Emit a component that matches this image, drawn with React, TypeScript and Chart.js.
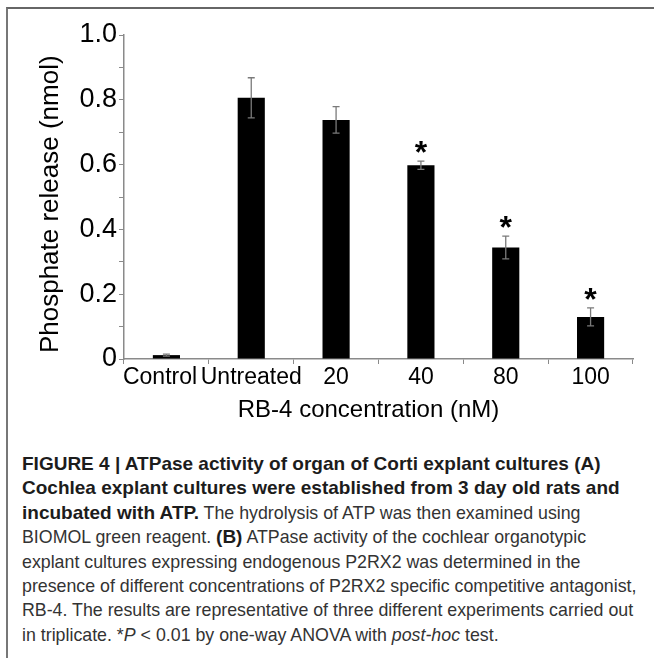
import React, { useEffect, useRef } from "react";
import { Chart, registerables } from "chart.js";

Chart.register(...registerables);

const categories = ["Control", "Untreated", "20", "40", "80", "100"];
const values = [0.012, 0.806, 0.738, 0.598, 0.344, 0.13];
const errors = [0.003, 0.062, 0.041, 0.013, 0.035, 0.028];
const markers = ["", "", "", "*", "*", "*"];
const yTickLabels = ["0", "", "0.2", "", "0.4", "", "0.6", "", "0.8", "", "1.0"];
const yTitle = "Phosphate release (nmol)";
const xTitle = "RB-4 concentration (nM)";

const FONT = "'Liberation Sans', Arial, Helvetica, sans-serif";

const errorBarPlugin = {
  id: "errorBars",
  afterDatasetsDraw(chart: any) {
    const { ctx } = chart;
    const meta = chart.getDatasetMeta(0);
    const y = chart.scales.y;
    ctx.save();
    meta.data.forEach((bar: any, i: number) => {
      const x = bar.x;
      const top = y.getPixelForValue(values[i] + errors[i]);
      const bot = y.getPixelForValue(values[i] - errors[i]);
      ctx.strokeStyle = "#7a7a7a";
      ctx.lineWidth = 1.3;
      ctx.beginPath();
      ctx.moveTo(x, top);
      ctx.lineTo(x, bot);
      ctx.moveTo(x - 3.5, top);
      ctx.lineTo(x + 3.5, top);
      ctx.moveTo(x - 3.5, bot);
      ctx.lineTo(x + 3.5, bot);
      ctx.stroke();
      if (markers[i]) {
        ctx.fillStyle = "#000";
        ctx.font = `bold 32px ${FONT}`;
        ctx.textAlign = "center";
        ctx.textBaseline = "alphabetic";
        const m = ctx.measureText(markers[i]);
        const cy = top - 14;
        const dy = (m.actualBoundingBoxAscent - m.actualBoundingBoxDescent) / 2;
        ctx.fillText(markers[i], x, cy + dy);
      }
    });
    ctx.restore();
  },
};

export default function App() {
  const ref = useRef<HTMLCanvasElement | null>(null);

  useEffect(() => {
    if (!ref.current) return;
    const chart = new Chart(ref.current, {
      type: "bar",
      data: {
        labels: categories,
        datasets: [
          {
            data: values,
            backgroundColor: "#000",
            borderWidth: 0,
            categoryPercentage: 1,
            barPercentage: 0.32,
          },
        ],
      },
      options: {
        responsive: false,
        animation: false,
        devicePixelRatio: 1,
        layout: { padding: { left: 8, right: 21, top: 35, bottom: 11 } },
        plugins: { legend: { display: false }, tooltip: { enabled: false } },
        scales: {
          x: {
            grid: {
              display: true,
              drawOnChartArea: false,
              drawTicks: true,
              tickLength: 5,
              color: "#8a8a8a",
              offset: true,
            },
            border: { display: true, color: "#8a8a8a", width: 1.5 },
            ticks: {
              color: "#000",
              font: { family: FONT, size: 23 },
              padding: 0,
              maxRotation: 0,
              autoSkip: false,
              callback: (_v: any, i: number) =>
                categories[i] + (i === 0 ? "\u00a0\u00a0" : ""),
            },
            title: {
              display: true,
              text: xTitle + "\u00a0\u00a0\u00a0",
              color: "#000",
              font: { family: FONT, size: 24 },
              padding: { top: 0, bottom: 4 },
            },
            afterFit(scale: any) {
              scale.height = 70;
            },
          },
          y: {
            min: 0,
            max: 1.0,
            ticks: {
              stepSize: 0.1,
              color: "#000",
              font: { family: FONT, size: 27 },
              padding: 2,
              autoSkip: false,
              callback: (_v: any, i: number) => yTickLabels[i],
            },
            grid: {
              display: true,
              drawOnChartArea: false,
              drawTicks: true,
              tickLength: 5,
              color: "#8a8a8a",
            },
            border: { display: true, color: "#8a8a8a", width: 1.5 },
            title: {
              display: true,
              text: yTitle + "\u00a0\u00a0",
              color: "#000",
              font: { family: FONT, size: 26 },
              padding: { top: 27, bottom: 0 },
            },
            afterFit(scale: any) {
              scale.width = 116;
            },
          },
        },
      },
      plugins: [errorBarPlugin],
    });
    return () => chart.destroy();
  }, []);

  const lineStyle: React.CSSProperties = {
    whiteSpace: "nowrap",
    height: 24.4,
    lineHeight: "24.4px",
  };
  const bold: React.CSSProperties = { fontWeight: 700, fontSize: 19, color: "#1c1c1c" };

  return (
    <div
      style={{
        position: "fixed",
        left: 0,
        top: 0,
        width: 654,
        height: 658,
        background: "#fff",
        overflow: "hidden",
      }}
    >
      <div
        style={{
          position: "absolute",
          left: 6,
          top: 7,
          width: 800,
          height: 800,
          borderTop: "2px solid #666",
          borderLeft: "2px solid #777",
        }}
      />
      <canvas
        ref={ref}
        width={654}
        height={440}
        style={{ position: "absolute", left: 0, top: 0, width: 654, height: 440 }}
      />
      <div
        style={{
          position: "absolute",
          left: 22,
          top: 452,
          fontFamily: FONT,
          fontSize: 17.8,
          color: "#333",
        }}
      >
        <div style={lineStyle}>
          <span style={bold}>FIGURE 4 | ATPase activity of organ of Corti explant cultures (A)</span>
        </div>
        <div style={lineStyle}>
          <span style={bold}>Cochlea explant cultures were established from 3 day old rats and</span>
        </div>
        <div style={lineStyle}>
          <span style={bold}>incubated with ATP.</span> The hydrolysis of ATP was then examined using
        </div>
        <div style={lineStyle}>
          BIOMOL green reagent. <span style={bold}>(B)</span> ATPase activity of the cochlear organotypic
        </div>
        <div style={lineStyle}>explant cultures expressing endogenous P2RX2 was determined in the</div>
        <div style={lineStyle}>
          presence of different concentrations of P2RX2 specific competitive antagonist,
        </div>
        <div style={lineStyle}>
          RB-4. The results are representative of three different experiments carried out
        </div>
        <div style={lineStyle}>
          in triplicate. *<i>P</i> &lt; 0.01 by one-way ANOVA with <i>post-hoc</i> test.
        </div>
      </div>
    </div>
  );
}
